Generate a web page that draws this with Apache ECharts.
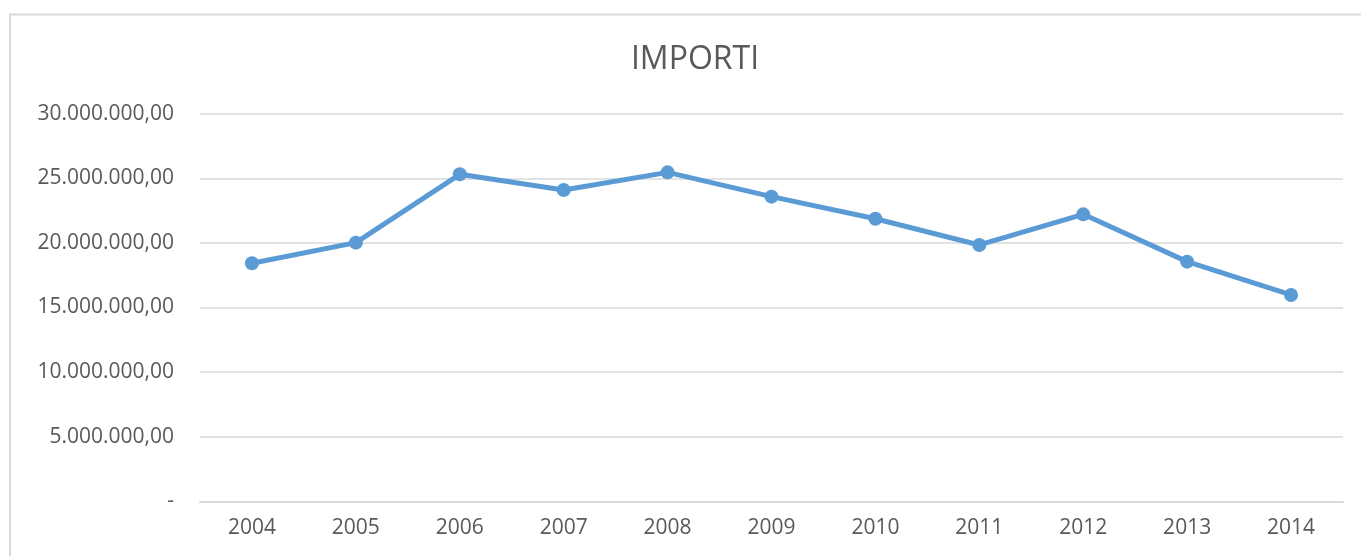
<!DOCTYPE html>
<html>
<head>
<meta charset="utf-8">
<script src="https://cdn.jsdelivr.net/npm/echarts@6/dist/echarts.min.js"></script>
<style>
html,body{margin:0;padding:0;background:#fff;}
#c{width:1361px;height:556px;}
</style>
</head>
<body>
<div id="c"></div>
<script>
var titleText = 'IMPORTI';
var years = ['2004','2005','2006','2007','2008','2009','2010','2011','2012','2013','2014'];
var importi = [18420000, 20020000, 25310000, 24090000, 25460000, 23580000, 21870000, 19840000, 22210000, 18550000, 15970000];
var yTicks = [0, 5000000, 10000000, 15000000, 20000000, 25000000, 30000000];

function fmt(v) {
  if (v === 0) return '-';
  var s = Math.round(v).toString().replace(/\B(?=(\d{3})+(?!\d))/g, '.');
  return s + ',00';
}

var chart = echarts.init(document.getElementById('c'));
chart.setOption({
  animation: false,
  backgroundColor: '#ffffff',
  textStyle: { fontFamily: 'Open Sans' },
  title: {
    text: titleText,
    left: 690, top: 39,
    textAlign: 'center',
    textStyle: { fontFamily: 'Open Sans', fontSize: 32, fontWeight: 'normal', color: '#595959' }
  },
  graphic: [{
    type: 'rect', silent: true, z: -1,
    shape: { x: 10, y: 14.5, width: 1400, height: 600 },
    style: { fill: null, stroke: '#d9d9d9', lineWidth: 2 }
  }],
  grid: { left: 200, right: 18, top: 113.7, bottom: 54.7, containLabel: false },
  xAxis: {
    type: 'category',
    data: years,
    boundaryGap: true,
    axisLine: { show: true, lineStyle: { color: '#d9d9d9', width: 2 } },
    axisTick: { show: false },
    axisLabel: { color: '#595959', fontSize: 21, fontFamily: 'Open Sans', margin: 16 }
  },
  yAxis: {
    type: 'value',
    min: yTicks[0], max: yTicks[yTicks.length - 1], interval: yTicks[1] - yTicks[0],
    axisLine: { show: false },
    axisTick: { show: false },
    splitLine: { lineStyle: { color: '#d9d9d9', width: 1.5 } },
    axisLabel: { color: '#595959', fontSize: 21, fontFamily: 'Open Sans', margin: 26, formatter: fmt }
  },
  series: [{
    type: 'line',
    data: importi,
    symbol: 'circle',
    symbolSize: 14,
    lineStyle: { color: '#5b9bd5', width: 5 },
    itemStyle: { color: '#5b9bd5' }
  }]
});
</script>
</body>
</html>
